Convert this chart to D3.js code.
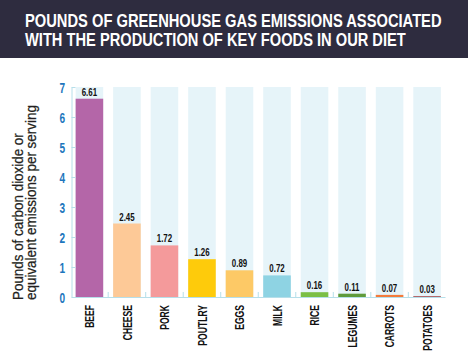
<!DOCTYPE html>
<html>
<head>
<meta charset="utf-8">
<script src="https://cdn.jsdelivr.net/npm/d3@7"></script>
<style>
  html, body { margin: 0; padding: 0; background: #ffffff; }
  svg { display: block; }
</style>
</head>
<body>
<svg id="chart" width="468" height="360"></svg>
<script>
// ---- data ----
const titleLines = [
  "POUNDS OF GREENHOUSE GAS EMISSIONS ASSOCIATED",
  "WITH THE PRODUCTION OF KEY FOODS IN OUR DIET"
];
const yTitleLines = [
  "Pounds of carbon dioxide or",
  "equivalent emissions per serving"
];
const categories = ["BEEF", "CHEESE", "PORK", "POUTLRY", "EGGS", "MILK", "RICE", "LEGUMES", "CARROTS", "POTATOES"];
const values = [6.61, 2.45, 1.72, 1.26, 0.89, 0.72, 0.16, 0.11, 0.07, 0.03];
const valueLabels = ["6.61", "2.45", "1.72", "1.26", "0.89", "0.72", "0.16", "0.11", "0.07", "0.03"];
const yTicks = [0, 1, 2, 3, 4, 5, 6, 7];
const palette = ["#b466a8", "#fdc997", "#f49a9b", "#fecb0b", "#fdc966", "#8ed3e3", "#7bbf45", "#5f9b3b", "#f37b3b", "#ae5a5c"];

// ---- layout ----
const svg = d3.select("#chart");
const W = 468, H = 360;
const axisColor = "#b6dfea";
const bgBar = "#e6f4f9";
const sans = "'Liberation Sans', Arial, sans-serif";

// fit a text element horizontally to a target length by scaling along its baseline
function fitWidth(sel, targets, base) {
  sel.each(function (d, i) {
    const len = this.getComputedTextLength();
    const s = targets[i] / len;
    d3.select(this).attr("transform", base(i) + ` scale(${s},1)`);
  });
}

// title band
svg.append("rect").attr("x", 0).attr("y", 0).attr("width", W).attr("height", 58).attr("fill", "#2e2c3f");
const titleLens = [417, 381];
const titleBase = [26.7, 45.7];
const titles = svg.selectAll("text.title").data(titleLines).join("text")
  .attr("class", "title")
  .attr("fill", "#ffffff")
  .attr("font-family", sans)
  .attr("font-weight", "bold")
  .attr("font-size", 18)
  .text(d => d);
fitWidth(titles, titleLens, i => `translate(25,${titleBase[i]})`);

// scales
const x = d3.scaleBand().domain(categories).range([71.5, 445]).paddingInner(0.265).paddingOuter(0.11);
const y = d3.scaleLinear().domain([0, 7]).range([297, 87]);
const color = d3.scaleOrdinal().domain(categories).range(palette);

// background bars
svg.append("g").selectAll("rect").data(categories).join("rect")
  .attr("x", d => x(d))
  .attr("width", x.bandwidth())
  .attr("y", y(7))
  .attr("height", y(0) - y(7))
  .attr("fill", bgBar);

// value bars
svg.append("g").selectAll("rect").data(values).join("rect")
  .attr("x", (d, i) => x(categories[i]))
  .attr("width", x.bandwidth())
  .attr("y", d => y(d))
  .attr("height", d => y(0) - y(d))
  .attr("fill", (d, i) => color(categories[i]));

// value labels
svg.append("g").selectAll("text").data(values).join("text")
  .attr("transform", (d, i) => `translate(${x(categories[i]) + x.bandwidth() / 2},${y(d) - 3}) scale(0.72,1)`)
  .attr("text-anchor", "middle")
  .attr("font-family", sans)
  .attr("font-weight", "bold")
  .attr("font-size", 11)
  .attr("fill", "#111")
  .text((d, i) => valueLabels[i]);

// y axis
const yAxis = svg.append("g")
  .attr("transform", `translate(${71.5},0)`)
  .call(d3.axisLeft(y).tickValues(yTicks).tickFormat(d3.format("d")).tickSizeInner(-4).tickSizeOuter(0).tickPadding(6));
yAxis.select(".domain").attr("stroke", axisColor);
yAxis.selectAll(".tick line").attr("stroke", axisColor);
yAxis.selectAll(".tick text")
  .attr("x", null)
  .attr("dy", "0.42em")
  .attr("transform", "translate(-6.5,0) scale(0.72,1)")
  .attr("fill", "#1d76bd")
  .attr("font-family", sans)
  .attr("font-weight", "bold")
  .attr("font-size", 14);

// x axis
const xAxis = svg.append("g")
  .attr("transform", `translate(0,${y(0)})`)
  .call(d3.axisBottom(x).tickSize(0).tickPadding(0));
xAxis.select(".domain").attr("stroke", axisColor);
xAxis.selectAll(".tick text")
  .attr("y", null)
  .attr("dy", "0.36em")
  .attr("text-anchor", "end")
  .attr("transform", "translate(0,8) rotate(-90) scale(0.66,1)")
  .attr("fill", "#111")
  .attr("font-family", sans)
  .attr("font-weight", "bold")
  .attr("font-size", 13);

// separator ticks between bands
const gap = x.step() * x.paddingInner();
svg.append("g").selectAll("line").data(categories.slice(1)).join("line")
  .attr("x1", d => x(d) - gap / 2)
  .attr("x2", d => x(d) - gap / 2)
  .attr("y1", y(0))
  .attr("y2", y(0) - 5)
  .attr("stroke", axisColor);

// y axis title
const yTitleLens = [167, 195];
const yt = svg.append("g").selectAll("text").data(yTitleLines).join("text")
  .attr("text-anchor", "start")
  .attr("font-family", sans)
  .attr("font-size", 14)
  .attr("fill", "#231f20")
  .attr("stroke", "#231f20")
  .attr("stroke-width", 0.25)
  .text(d => d);
fitWidth(yt, yTitleLens, i => `translate(${22.5 + i * 13.5},300) rotate(-90)`);
</script>
</body>
</html>
